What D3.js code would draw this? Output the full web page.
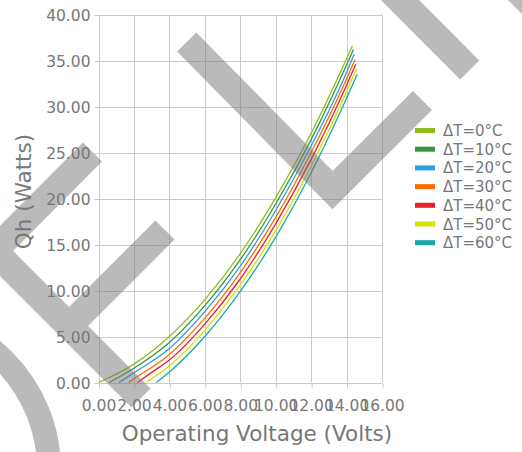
<!DOCTYPE html>
<html>
<head>
<meta charset="utf-8">
<script src="https://cdn.jsdelivr.net/npm/d3@7"></script>
<style>
  body { margin: 0; background: #fff; }
  text { font-family: "DejaVu Sans", sans-serif; fill: #777; }
</style>
</head>
<body>
<svg id="chart" width="522" height="452"></svg>
<script>
// series labels and colours
const seriesNames = ['ΔT=0°C', 'ΔT=10°C', 'ΔT=20°C', 'ΔT=30°C', 'ΔT=40°C', 'ΔT=50°C', 'ΔT=60°C'];
const seriesColors = ['#8fbc1a', '#36963f', '#2aa0dc', '#ff6b00', '#e52129', '#d8e000', '#17a9a9'];

// operating voltage (Volts) per series
const voltages = [
    [0, 2, 4, 6, 8, 10, 12, 14, 14.33],
    [0.6, 2, 4, 6, 8, 10, 12, 14, 14.39],
    [1.15, 2, 4, 6, 8, 10, 12, 14, 14.43],
    [1.7, 2, 4, 6, 8, 10, 12, 14, 14.48],
    [2.2, 3, 4, 6, 8, 10, 12, 14, 14.52],
    [2.7, 3, 4, 6, 8, 10, 12, 14, 14.56],
    [3.26, 4, 6, 8, 10, 12, 14, 14.6]
];

// Qh (Watts) per series
const heatValues = [
    [0, 2.0, 5.0, 9.0, 14.0, 20.1, 27.1, 35.2, 36.6],
    [0, 1.55, 4.35, 8.35, 13.35, 19.4, 26.4, 34.5, 36.2],
    [0, 1.05, 3.7, 7.7, 12.65, 18.7, 25.7, 33.7, 35.7],
    [0, 0.4, 3.05, 7.0, 11.95, 17.95, 25.0, 33.0, 35.1],
    [0, 1.1, 2.45, 6.35, 11.25, 17.25, 24.25, 32.3, 34.6],
    [0, 0.4, 1.8, 5.7, 10.6, 16.5, 23.5, 31.6, 34.1],
    [0, 1.15, 5.0, 9.9, 15.8, 22.8, 30.9, 33.5]
];

const xTicks = [0, 2, 4, 6, 8, 10, 12, 14, 16];
const yTicks = [0, 5, 10, 15, 20, 25, 30, 35, 40];

const svg = d3.select('#chart');
const plotLeft = 98.5, plotRight = 382, plotTop = 14.5, plotBottom = 382.5;

const x = d3.scaleLinear().domain([0, 16]).range([plotLeft, plotRight]);
const y = d3.scaleLinear().domain([0, 40]).range([plotBottom, plotTop]);
const fmt = d3.format('.2f');

// gridlines
const grid = svg.append('g').attr('stroke', '#cbcbcb').attr('stroke-width', 1);
grid.selectAll('.gx').data(xTicks).enter().append('line')
    .attr('x1', d => Math.round(x(d)) + 0.5).attr('x2', d => Math.round(x(d)) + 0.5)
    .attr('y1', plotTop).attr('y2', plotBottom);
grid.selectAll('.gy').data(yTicks).enter().append('line')
    .attr('y1', d => Math.round(y(d)) + 0.5).attr('y2', d => Math.round(y(d)) + 0.5)
    .attr('x1', plotLeft).attr('x2', plotRight);

// axes
const xAxis = svg.append('g')
    .attr('transform', `translate(0, ${Math.round(plotBottom) + 0.5})`)
    .call(d3.axisBottom(x).tickValues(xTicks).tickFormat(fmt).tickSize(5));
xAxis.select('.domain').remove();
xAxis.selectAll('line').attr('stroke', '#cbcbcb').attr('transform', 'translate(0.5,0)');
xAxis.selectAll('text').attr('y', 27).attr('dy', 0)
    .style('font-size', '15.5px').style('font-family', '"DejaVu Sans", sans-serif').attr('fill', '#777');

const yAxis = svg.append('g')
    .attr('transform', `translate(${Math.round(plotLeft) + 0.5}, 0)`)
    .call(d3.axisLeft(y).tickValues(yTicks).tickFormat(fmt).tickSize(5).tickPadding(4));
yAxis.select('.domain').remove();
yAxis.selectAll('line').attr('stroke', '#cbcbcb').attr('transform', 'translate(0,0.5)');
yAxis.selectAll('text').attr('dy', '0.38em')
    .style('font-size', '15.5px').style('font-family', '"DejaVu Sans", sans-serif').attr('fill', '#777');

// curves
const line = d3.line()
    .x(d => x(d[0]))
    .y(d => y(d[1]))
    .curve(d3.curveMonotoneX);

seriesNames.forEach((name, i) => {
    const pts = voltages[i].map((v, j) => [v, heatValues[i][j]]);
    svg.append('path')
        .datum(pts)
        .attr('fill', 'none')
        .attr('stroke', seriesColors[i])
        .attr('stroke-width', 1.3)
        .attr('d', line);
});

// legend
const legend = svg.append('g').attr('transform', 'translate(415, 130.5)');
seriesNames.forEach((name, i) => {
    const row = legend.append('g').attr('transform', `translate(0, ${i * 18.7})`);
    row.append('rect').attr('x', 0).attr('y', -2.5).attr('width', 20).attr('height', 5)
        .attr('fill', seriesColors[i]);
    row.append('text').attr('x', 28).attr('y', 5.5)
        .style('font-size', '15px').text(name);
});

// axis titles
svg.append('text')
    .attr('x', 257).attr('y', 441)
    .attr('text-anchor', 'middle')
    .style('font-size', '21.5px')
    .text('Operating Voltage (Volts)');

svg.append('text')
    .attr('transform', 'translate(30.5, 191.5) rotate(-90)')
    .attr('text-anchor', 'middle')
    .style('font-size', '21.5px')
    .text('Qh (Watts)');

// watermark strokes on top
const mark = svg.append('g')
    .attr('opacity', 0.5)
    .attr('fill', 'none')
    .attr('stroke', '#777')
    .attr('stroke-width', 27)
    .attr('stroke-linejoin', 'miter');
mark.append('path').attr('d', 'M469.7,70 L380,-20');
mark.append('path').attr('d', 'M500,-27 L600,73');
mark.append('path').attr('d', 'M186.7,42 L332.5,190 L422.5,100.5');
mark.append('path').attr('d', 'M92.5,152 L-6,251 L141,398 M165,230 L69,326');
mark.append('path').attr('stroke-width', 24).attr('d', d3.arc()({
    innerRadius: 155, outerRadius: 155, startAngle: 0, endAngle: Math.PI / 2
})).attr('transform', 'translate(-106, 470)');
</script>
</body>
</html>
